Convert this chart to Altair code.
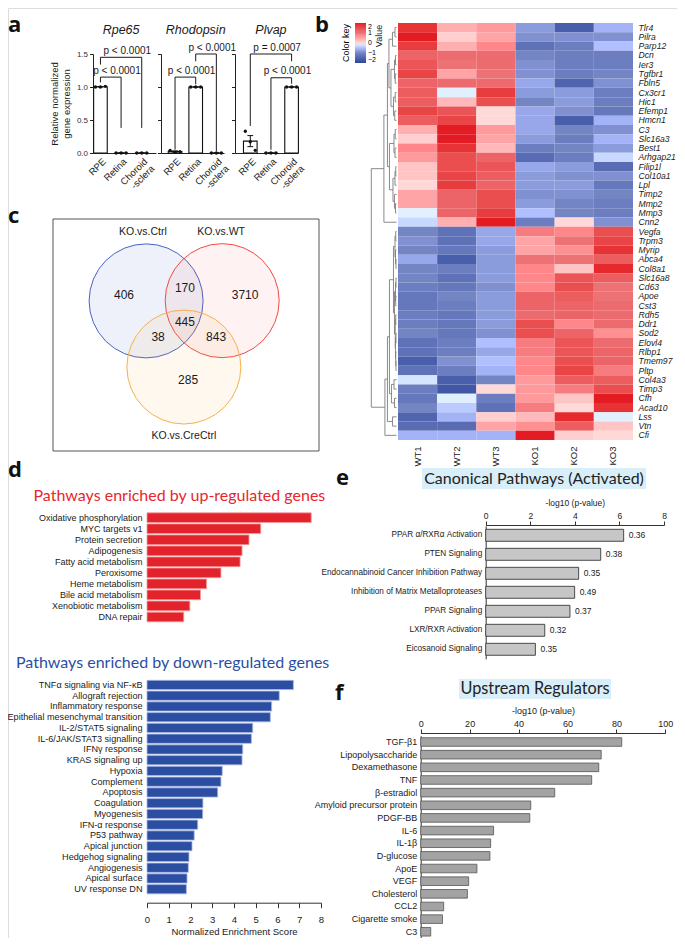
import altair as alt
import pandas as pd

# ---------------------------------------------------------------- data
# panel a : relative normalized expression, 3 replicates per tissue
a_genes = ["Rpe65", "Rhodopsin", "Plvap"]
a_tissues = ["RPE", "Retina", "Choroid\n-sclera"]
rpe65_vals = [1.00, 1.00, 1.01, 0.0, 0.0, 0.0, 0.0, 0.0, 0.0]
rhodopsin_vals = [0.04, 0.01, 0.02, 1.00, 1.00, 1.00, 0.0, 0.0, 0.0]
plvap_vals = [0.33, 0.17, 0.04, 0.0, 0.0, 0.0, 1.00, 1.00, 1.00]
brk_gene = ["Rpe65", "Rpe65", "Rhodopsin", "Rhodopsin", "Plvap", "Plvap"]
brk_from = [0, 0, 0, 1, 0, 1]
brk_to = [1, 2, 1, 2, 2, 2]
brk_level = [1.15, 1.45, 1.15, 1.50, 1.50, 1.14]
brk_leg_from = [1.07, 1.34, 0.05, 1.39, 0.41, 0.05]
brk_leg_to = [0.38, 0.38, 1.04, 0.03, 1.39, 1.05]
brk_label = ["p < 0.0001", "p < 0.0001", "p < 0.0001", "p < 0.0001", "p = 0.0007", "p < 0.0001"]

# panel b : heatmap (z-scores)
b_samples = ["WT1", "WT2", "WT3", "KO1", "KO2", "KO3"]
b_genes = ["Tlr4", "Pilra", "Parp12", "Dcn", "Ier3", "Tgfbr1", "Fbln5", "Cx3cr1", "Hic1",
           "Efemp1", "Hmcn1", "C3", "Slc16a3", "Best1", "Arhgap21", "Filip1l", "Col10a1",
           "Lpl", "Timp2", "Mmp2", "Mmp3", "Cnn2", "Vegfa", "Trpm3", "Myrip", "Abca4",
           "Col8a1", "Slc16a8", "Cd63", "Apoe", "Cst3", "Rdh5", "Ddr1", "Sod2", "Elovl4",
           "Rlbp1", "Tmem97", "Pltp", "Col4a3", "Timp3", "Cfh", "Acad10", "Lss", "Vtn", "Cfi"]
wt1 = [1.8, 2.0, 1.7, 1.2, 1.4, 1.6, 1.2, 1.3, 1.3, 1.6, 1.3, 0.4, 0.1, 0.8, 0.6, 0.2, 0.2,
       0.0, 0.5, 0.5, -0.1, -0.3, -1.0, -0.9, -1.0, -0.7, -1.0, -1.0, -1.1, -1.2, -1.2, -1.1,
       -1.1, -1.0, -1.3, -1.3, -1.6, -1.3, -0.2, -1.1, -1.2, -1.0, -1.5, -1.4, -0.6]
wt2 = [0.4, 0.1, 0.4, 1.1, 1.0, 0.5, 1.1, -0.1, 0.3, 1.4, 1.6, 2.0, 2.0, 1.8, 1.5, 1.5, 1.6,
       1.7, 1.2, 1.2, 1.2, 0.4, -1.3, -1.3, -1.2, -1.6, -1.1, -1.3, -1.2, -1.0, -1.1, -1.2,
       -1.2, -1.2, -1.1, -1.1, -0.9, -1.1, -1.6, -1.7, -0.1, -0.4, -0.6, -1.4, -0.6]
wt3 = [0.6, 0.5, 0.8, 1.1, 1.1, 1.0, 1.1, 1.7, 1.5, 0.0, 0.0, 0.6, 0.5, 0.3, 1.2, 1.4, 1.3,
       1.2, 1.5, 1.5, 1.7, 2.0, -0.7, -0.7, -0.8, -0.8, -0.8, -0.8, -0.9, -0.8, -0.8, -0.8,
       -0.8, -0.9, -0.5, -0.7, -0.5, -0.6, -1.0, 0.0, -1.1, -1.3, 0.1, 0.5, -0.6]
ko1 = [-0.8, -0.9, -1.3, -1.0, -0.9, -0.9, -0.7, -0.8, -1.0, -0.7, -0.7, -0.7, -0.8, -1.1,
       -1.4, -0.7, -0.8, -0.8, -0.9, -0.8, -0.5, -1.1, 0.9, 0.5, 0.5, 1.0, 0.8, 0.8, 0.8, 1.2,
       1.2, 1.1, 1.5, 1.5, 0.9, 0.9, 0.8, 0.8, 0.6, 0.6, 0.6, 0.9, 0.3, 0.7, 2.0]
ko2 = [-1.6, -0.9, -1.1, -1.1, -1.1, -1.1, -1.5, -0.8, -0.8, -0.9, -1.6, -1.0, -1.1, -1.0,
       -1.1, -0.8, -0.9, -0.8, -0.9, -1.0, -1.0, 0.0, 0.8, 1.0, 0.7, 1.0, 0.2, 1.4, 1.5, 1.3,
       1.2, 1.2, 0.8, 1.2, 1.4, 1.4, 1.5, 1.6, 1.3, 0.9, 0.2, 0.0, 1.9, 1.3, 0.1]
ko3 = [-0.6, -0.9, -0.5, -1.1, -1.1, -1.0, -0.9, -1.1, -1.1, -1.2, -0.6, -0.9, -0.6, -0.8,
       -0.3, -1.4, -0.9, -1.2, -1.0, -1.1, -1.1, -0.9, 1.5, 1.6, 1.8, 1.3, 1.9, 1.3, 1.0, 1.0,
       1.1, 1.1, 1.1, 0.7, 1.1, 1.2, 1.2, 0.9, 1.3, 1.5, 2.0, 1.8, -0.1, 0.2, 0.0]
# row dendrogram: (merge height, left, right); leaves are row indices
b_tree = (1.0,
          (0.50,
           (0.36,
            (0.30, (0.16, (0.06, 0, 1), 2),
             (0.22, (0.08, (0.04, 3, 4), (0.05, 5, 6)), (0.12, (0.05, 7, 8), (0.07, 9, 10)))),
            (0.28, (0.10, (0.05, 11, 12), (0.06, 13, 14)),
             (0.14, (0.06, (0.03, 15, 16), 17), (0.08, 18, (0.04, 19, 20))))),
           21),
          (0.46,
           (0.36,
            (0.28,
             (0.12, (0.06, (0.03, 22, 23), (0.04, 24, (0.02, 25, 26))),
              (0.08, (0.04, (0.02, 27, 28), (0.03, 29, 30)),
               (0.05, (0.03, 31, 32), (0.04, (0.02, 33, 34), (0.03, 35, (0.02, 36, 37)))))),
             (0.20, (0.10, 38, 39), (0.08, 40, 41))),
            (0.16, 42, 43)),
           44))

# panel c : Venn counts
venn_sets = ["KO.vs.Ctrl", "KO.vs.WT", "KO.vs.CreCtrl"]
venn_regions = ["Ctrl", "Ctrl&WT", "WT", "all", "Ctrl&Cre", "WT&Cre", "Cre"]
venn_counts = [406, 170, 3710, 445, 38, 843, 285]

# panel d : normalized enrichment scores
up_terms = ["Oxidative phosphorylation", "MYC targets v1", "Protein secretion", "Adipogenesis",
            "Fatty acid metabolism", "Peroxisome", "Heme metabolism", "Bile acid metabolism",
            "Xenobiotic metabolism", "DNA repair"]
up_nes = [7.55, 5.23, 4.69, 4.37, 4.28, 3.40, 2.74, 2.46, 1.97, 1.69]
down_terms = ["TNFα signaling via NF-κB", "Allograft rejection", "Inflammatory response",
              "Epithelial mesenchymal transition", "IL-2/STAT5 signaling",
              "IL-6/JAK/STAT3 signalling", "IFNγ response", "KRAS signaling up", "Hypoxia",
              "Complement", "Apoptosis", "Coagulation", "Myogenesis", "IFN-α response",
              "P53 pathway", "Apical junction", "Hedgehog signaling", "Angiogenesis",
              "Apical surface", "UV response DN"]
down_nes = [6.73, 6.08, 5.73, 5.67, 4.86, 4.80, 4.40, 4.37, 3.46, 3.40, 3.25, 2.57, 2.56,
            2.33, 2.17, 2.07, 1.93, 1.90, 1.84, 1.81]

# panel e : canonical pathways
e_terms = ["PPAR α/RXRα Activation", "PTEN Signaling", "Endocannabinoid Cancer Inhibition Pathway",
           "Inhibition of Matrix Metalloproteases", "PPAR Signaling", "LXR/RXR Activation",
           "Eicosanoid Signaling"]
e_logp = [6.19, 5.16, 4.17, 3.99, 3.78, 2.65, 2.23]
e_ratio = ["0.36", "0.38", "0.35", "0.49", "0.37", "0.32", "0.35"]

# panel f : upstream regulators
f_terms = ["TGF-β1", "Lipopolysaccharide", "Dexamethasone", "TNF", "β-estradiol",
           "Amyloid precursor protein", "PDGF-BB", "IL-6", "IL-1β", "D-glucose", "ApoE",
           "VEGF", "Cholesterol", "CCL2", "Cigarette smoke", "C3"]
f_logp = [82.2, 73.8, 72.8, 69.9, 54.8, 45.0, 44.6, 29.8, 28.6, 28.3, 23.0, 19.6, 19.1,
          9.4, 8.9, 4.1]

# ---------------------------------------------------------------- layout / style
W, H = 669, 930
SANS = "Liberation Sans, Arial, Helvetica, sans-serif"
HEAD = "Lato, Open Sans, sans-serif"
BOLD = "Open Sans, Lato, sans-serif"
INK = "#1a1a1a"


def LX(v): return v - 2      # left column
def RX(v): return v - 15     # right column
def TY(v): return v - 2      # upper half
def BY(v): return v - 12     # lower half


def letter(ch, x, y):
    return alt.Chart(pd.DataFrame({"t": [ch]})).mark_text(
        font=BOLD, fontSize=22, fontWeight="bold", align="left", baseline="alphabetic",
        color="#111").encode(x=alt.value(x), y=alt.value(y), text="t:N")


def free_text(txt, x, y, **kw):
    return alt.Chart(pd.DataFrame({"t": [txt]})).mark_text(**kw).encode(
        x=alt.value(x), y=alt.value(y), text="t:N")


def QX(field, sc, axis=None):
    return alt.X(field, type="quantitative", scale=sc, axis=axis)


def QY(field, sc, axis=None):
    return alt.Y(field, type="quantitative", scale=sc, axis=axis)


layers = []

# ---------------------------------------------------------------- panel a
a_axis_left = [87, 155, 229]
a_dmin = [-0.36, -0.68, -0.74]
a_w = 63
brk_df = pd.DataFrame({"gene": brk_gene, "xa": brk_from, "xb": brk_to, "level": brk_level,
                       "la": brk_leg_from, "lb": brk_leg_to, "label": brk_label})


def js_label(t):
    parts = t.split("\n")
    if len(parts) == 1:
        return "'" + t + "'"
    return "[" + ",".join("'" + p + "'" for p in parts) + "]"


tissue_expr = "datum.value == 0 ? %s : datum.value == 1 ? %s : %s" % tuple(
    js_label(t) for t in a_tissues)

for i, (g, vals) in enumerate(zip(a_genes, [rpe65_vals, rhodopsin_vals, plvap_vals])):
    df = pd.DataFrame({"pos": [0, 0, 0, 1, 1, 1, 2, 2, 2], "rep": [0, 1, 2] * 3, "val": vals})
    xs = alt.Scale(domain=[a_dmin[i], a_dmin[i] + 3.05],
                   range=[LX(a_axis_left[i]), LX(a_axis_left[i] + a_w)], nice=False, zero=False)
    ys = alt.Scale(domain=[0, 1.5], range=[TY(147), TY(48)], nice=False, zero=False)
    xaxis = alt.Axis(orient="bottom", offset=TY(147) - H, values=[0, 1, 2], labelExpr=tissue_expr,
                     labelAngle=-45, ticks=False, grid=False, title=None, domainColor="#222",
                     labelColor=INK, labelFontSize=9.5, labelPadding=3, labelOverlap=False,
                     labelFlush=False, labelLineHeight=10)
    yaxis = alt.Axis(orient="left", offset=-LX(a_axis_left[i]), values=[0, 0.5, 1, 1.5],
                     format=".1f", labels=(i == 0), grid=False, tickSize=3.5, labelFontSize=8,
                     labelPadding=2, labelColor="#333", domainColor="#222", tickColor="#222",
                     labelFlush=False, labelOverlap=False,
                     title=["Relative normalized", "gene expression"] if i == 0 else None,
                     titleFontSize=9.5, titleFontWeight="normal", titlePadding=5,
                     titleColor=INK)
    base = alt.Chart(df)
    agg = base.transform_aggregate(m="mean(val)", se="stderr(val)", groupby=["pos"]) \
        .transform_calculate(lo="datum.pos - 0.33", hi="datum.pos + 0.33",
                             elo="datum.m - datum.se", ehi="datum.m + datum.se",
                             clo="datum.pos - 0.14", chi="datum.pos + 0.14")
    layers.append(agg.mark_rect(fill="white", stroke="#111", strokeWidth=1.1).encode(
        x=QX("lo", xs, xaxis), x2="hi:Q", y=QY("m", ys, yaxis), y2=alt.datum(0)))
    layers.append(agg.mark_rule(color="#111", strokeWidth=1).encode(
        x=QX("pos", xs), y=QY("elo", ys), y2="ehi:Q"))
    layers.append(agg.mark_rule(color="#111", strokeWidth=1).encode(
        x=QX("clo", xs), x2="chi:Q", y=QY("elo", ys)))
    layers.append(agg.mark_rule(color="#111", strokeWidth=1).encode(
        x=QX("clo", xs), x2="chi:Q", y=QY("ehi", ys)))
    layers.append(base.transform_calculate(jx="datum.pos + (datum.rep - 1) * 0.24").mark_circle(
        size=11, color="#111", opacity=1).encode(x=QX("jx", xs), y=QY("val", ys)))
    bb = alt.Chart(brk_df[brk_df["gene"] == g])
    layers.append(bb.mark_rule(color=INK, strokeWidth=1).encode(
        x=QX("xa", xs), x2="xb:Q", y=QY("level", ys)))
    layers.append(bb.mark_rule(color=INK, strokeWidth=1).encode(
        x=QX("xa", xs), y=QY("la", ys), y2="level:Q"))
    layers.append(bb.mark_rule(color=INK, strokeWidth=1).encode(
        x=QX("xb", xs), y=QY("lb", ys), y2="level:Q"))
    layers.append(bb.transform_calculate(tx="(datum.xa + datum.xb) / 2 + 0.3").mark_text(
        baseline="bottom", dy=-1.5, fontSize=10, color=INK, font=SANS).encode(
        x=QX("tx", xs), y=QY("level", ys), text="label:N"))
    layers.append(alt.Chart(pd.DataFrame({"t": [g]})).mark_text(
        fontStyle="italic", fontSize=12.5, color=INK, font=SANS).encode(
        x=alt.XDatum(1, scale=xs, axis=None), y=alt.YDatum(1.86, scale=ys, axis=None),
        text="t:N"))

layers.append(letter("a", LX(2), TY(26)))

# ---------------------------------------------------------------- panel c (Venn)
venn_cx = [35.0, 63.6, 49.2]
venn_cy = [35.3, 35.2, 63.8]
venn_stroke = ["#4a62c4", "#ee4c44", "#f6b04c"]
venn_op = [0.09, 0.07, 0.09]
venn_set_lx = [33.8, 63.2, 49.2]
venn_set_ly = [5.6, 5.6, 93.5]
venn_cnt_x = [26.7, 49.6, 72.2, 49.6, 39.5, 61.3, 50.8]
venn_cnt_y = [32.8, 29.7, 32.8, 44.4, 50.9, 50.9, 69.4]
vxs = alt.Scale(domain=[0, 100], range=[LX(47), LX(313)], nice=False, zero=False)
vys = alt.Scale(domain=[0, 100], range=[TY(213), TY(445)], nice=False, zero=False)
layers.append(alt.Chart(pd.DataFrame({"x0": [0], "x1": [100], "y0": [0], "y1": [100]})).mark_rect(
    filled=False, color="#555", strokeWidth=1).encode(
    x=QX("x0", vxs), x2="x1:Q", y=QY("y0", vys), y2="y1:Q"))
for k in range(3):
    layers.append(alt.Chart(pd.DataFrame({"s": [venn_sets[k]], "cx": [venn_cx[k]],
                                          "cy": [venn_cy[k]]}))
                  .mark_point(shape="circle", size=114 ** 2, filled=True, fill=venn_stroke[k],
                              fillOpacity=venn_op[k], stroke=venn_stroke[k], strokeWidth=1,
                              strokeOpacity=1)
                  .encode(x=QX("cx", vxs), y=QY("cy", vys)))
layers.append(alt.Chart(pd.DataFrame({"s": venn_sets, "x": venn_set_lx, "y": venn_set_ly}))
              .mark_text(fontSize=10.5, color=INK, font=SANS)
              .encode(x=QX("x", vxs), y=QY("y", vys), text="s:N"))
layers.append(alt.Chart(pd.DataFrame({"r": venn_regions, "n": venn_counts, "x": venn_cnt_x,
                                      "y": venn_cnt_y}))
              .mark_text(fontSize=12, color=INK, font=SANS)
              .encode(x=QX("x", vxs), y=QY("y", vys), text="n:Q"))
layers.append(letter("c", LX(2), TY(217)))

# ---------------------------------------------------------------- panel d
dxs = alt.Scale(domain=[0, 8], range=[LX(141), LX(315)], nice=False, zero=False)
layers.append(alt.Chart(pd.DataFrame({"term": up_terms, "nes": up_nes})).mark_bar(
    color="#e3232b", stroke="#f49c9c", strokeWidth=0.8).encode(
    x=QX("nes", dxs),
    y=alt.Y("term:N", scale=alt.Scale(domain=up_terms, range=[BY(516.2), BY(626.5)],
                                      paddingInner=0.12, paddingOuter=0.06),
            axis=alt.Axis(orient="left", offset=-LX(141), domain=False, ticks=False,
                          labelFontSize=9, labelPadding=5, labelColor=INK, title=None,
                          labelLimit=400, labelFont=SANS))))
layers.append(alt.Chart(pd.DataFrame({"term": down_terms, "nes": down_nes})).mark_bar(
    color="#2b4ea3", stroke="#a9b8e0", strokeWidth=0.8).encode(
    x=QX("nes", dxs,
         alt.Axis(orient="bottom", offset=BY(906.7) - H, values=list(range(9)),
                  tickSize=5, labelFontSize=9.5, labelPadding=7,
                  title="Normalized Enrichment Score", titleFontSize=9.5,
                  titleFontWeight="normal", titlePadding=2, grid=False,
                  labelFlush=False, labelOverlap=False, domainColor="#333",
                  tickColor="#333", labelColor=INK, titleColor=INK)),
    y=alt.Y("term:N", scale=alt.Scale(domain=down_terms, range=[BY(683.6), BY(898.6)],
                                      paddingInner=0.14, paddingOuter=0.07),
            axis=alt.Axis(orient="left", offset=-LX(141), domain=False, ticks=False,
                          labelFontSize=9.1, labelPadding=5, labelColor=INK, title=None,
                          labelLimit=400, labelFont=SANS))))
layers.append(free_text("Pathways enriched by up-regulated genes", LX(27.5), BY(500),
                        font=HEAD, fontSize=16, color="#e8262c", align="left",
                        baseline="middle"))
layers.append(free_text("Pathways enriched by down-regulated genes", LX(10), BY(667),
                        font=HEAD, fontSize=16, color="#2b4ea3", align="left",
                        baseline="middle"))
layers.append(letter("d", LX(2), BY(481)))

# ---------------------------------------------------------------- panel b (heatmap)
hm_rows = []
for s, col in zip(b_samples, [wt1, wt2, wt3, ko1, ko2, ko3]):
    for gname, z in zip(b_genes, col):
        hm_rows.append({"sample": s, "gene": gname, "z": z})
layers.append(alt.Chart(pd.DataFrame(hm_rows)).mark_rect().encode(
    x=alt.X("sample:N", scale=alt.Scale(domain=b_samples, range=[RX(405), RX(640)],
                                        paddingInner=0, paddingOuter=0),
            axis=alt.Axis(orient="bottom", offset=TY(434) - H, labelAngle=270, ticks=False,
                          domain=False, labelFont=SANS, labelFontSize=9.5, labelPadding=6,
                          title=None, labelColor=INK)),
    y=alt.Y("gene:N", scale=alt.Scale(domain=b_genes, range=[TY(17), TY(434)],
                                      paddingInner=0, paddingOuter=0),
            axis=alt.Axis(orient="right", offset=RX(640) - W, ticks=False, domain=False,
                          labelFont=SANS, labelFontStyle="italic", labelFontSize=8.6,
                          labelPadding=5, title=None, labelColor=INK)),
    color=alt.Color("z:Q", scale=alt.Scale(domain=[-2, -1, 0, 1, 2],
                                           range=["#2a469a", "#7485c4", "#ffffff",
                                                  "#ec7276", "#e31b23"]),
                    legend=alt.Legend(orient="none", legendX=RX(349), legendY=TY(17),
                                      direction="vertical", title="Color key",
                                      titleOrient="left", gradientLength=40,
                                      gradientThickness=11, values=[-2, -1, 0, 1, 2],
                                      labelFont=SANS, labelFontSize=7, titleFont=SANS,
                                      titleFontSize=9, titleFontWeight="normal",
                                      titlePadding=3, labelOffset=2, padding=0,
                                      labelOverlap=False, gradientStrokeWidth=0))))

seg = []


def walk(node):
    if isinstance(node, int):
        return float(node), 0.0
    h, l, r = node
    pl, hl = walk(l)
    pr, hr = walk(r)
    seg.append({"h1": hl, "h2": h, "p1": pl, "p2": pl})
    seg.append({"h1": hr, "h2": h, "p1": pr, "p2": pr})
    seg.append({"h1": h, "h2": h, "p1": pl, "p2": pr})
    return (pl + pr) / 2, h


walk(b_tree)
layers.append(alt.Chart(pd.DataFrame(seg)).mark_rule(color="#7d7d7d", strokeWidth=0.9).encode(
    x=QX("h1", alt.Scale(domain=[0, 1], range=[RX(403.5), RX(378.3)], nice=False, zero=False)),
    x2="h2:Q",
    y=QY("p1", alt.Scale(domain=[-0.5, len(b_genes) - 0.5], range=[TY(17), TY(434)],
                         nice=False, zero=False)),
    y2="p2:Q"))
layers.append(free_text("Value", RX(386), TY(30), font=SANS, fontSize=9, color=INK,
                        angle=270, align="center", baseline="middle"))
layers.append(letter("b", RX(322), TY(26)))

# ---------------------------------------------------------------- panel e
e_df = pd.DataFrame({"term": e_terms, "v": e_logp, "r": e_ratio})
exs = alt.Scale(domain=[0, 8], range=[RX(492.7), RX(671)], nice=False, zero=False)
eys = alt.Scale(domain=e_terms, range=[BY(529.8), BY(662.8)], paddingInner=0.37,
                paddingOuter=0.185)
layers.append(alt.Chart(e_df).mark_bar(color="#c6c6c6", stroke="#3a3a3a", strokeWidth=0.9).encode(
    x=QX("v", exs,
         alt.Axis(orient="top", offset=-BY(529), values=[0, 2, 4, 6, 8], tickSize=4,
                  labelFontSize=8.5, labelPadding=1, title="-log10 (p-value)",
                  titleFontSize=8.5, titleFontWeight="normal", titlePadding=4,
                  grid=False, labelFlush=False, domainColor="#333", tickColor="#333",
                  labelColor=INK, titleColor=INK)),
    y=alt.Y("term:N", scale=eys,
            axis=alt.Axis(orient="left", offset=-RX(492.7), ticks=False, labelFontSize=8.2,
                          labelPadding=4, title=None, domainColor="#333", labelLimit=400,
                          labelColor=INK))))
layers.append(alt.Chart(e_df).mark_text(align="left", dx=5, fontSize=8.5, color=INK,
                                        font=SANS).encode(
    x=QX("v", exs), y=alt.Y("term:N", scale=eys, axis=None), text="r:N"))
layers.append(alt.Chart(pd.DataFrame({"k": [0]})).mark_rect(color="#d8eef8").encode(
    x=alt.value(RX(429)), x2=alt.value(RX(653)), y=alt.value(BY(472)), y2=alt.value(BY(493))))
layers.append(free_text("Canonical Pathways (Activated)", RX(541), BY(483), font=HEAD,
                        fontSize=16, color="#222", align="center", baseline="middle"))
layers.append(letter("e", RX(343), BY(489)))

# ---------------------------------------------------------------- panel f
f_df = pd.DataFrame({"term": f_terms, "v": f_logp})
layers.append(alt.Chart(f_df).mark_bar(color="#a3a3a3", stroke="#555", strokeWidth=0.8).encode(
    x=QX("v", alt.Scale(domain=[0, 100], range=[RX(427.7), RX(672.3)], nice=False, zero=False),
         alt.Axis(orient="top", offset=-BY(737), values=[0, 20, 40, 60, 80, 100],
                  tickSize=4, labelFontSize=9, labelPadding=1,
                  title="-log10 (p-value)", titleFontSize=9, titleFontWeight="normal",
                  titlePadding=4, grid=False, labelFlush=False, domainColor="#333",
                  tickColor="#333", labelColor=INK, titleColor=INK)),
    y=alt.Y("term:N", scale=alt.Scale(domain=f_terms, range=[BY(739.7), BY(942.1)],
                                      paddingInner=0.32, paddingOuter=0.16),
            axis=alt.Axis(orient="left", offset=-RX(427.7), ticks=False, labelFontSize=9,
                          labelPadding=4, title=None, domainColor="#333", labelLimit=400,
                          labelColor=INK))))
layers.append(alt.Chart(pd.DataFrame({"k": [0]})).mark_rect(color="#d8eef8").encode(
    x=alt.value(RX(466)), x2=alt.value(RX(618)), y=alt.value(BY(683)), y2=alt.value(BY(703))))
layers.append(free_text("Upstream Regulators", RX(542), BY(693), font=HEAD, fontSize=16.3,
                        color="#222", align="center", baseline="middle"))
layers.append(letter("f", RX(342), BY(704)))

# ---------------------------------------------------------------- assemble
chart = alt.layer(*layers).resolve_scale(
    x="independent", y="independent", color="independent"
).resolve_axis(x="independent", y="independent").properties(
    width=W, height=H, padding=0, autosize=alt.AutoSizeParams(type="none")
).configure_view(strokeWidth=0).configure(font=SANS).configure_axis(
    labelFont=SANS, titleFont=SANS)

chart.save("out.html", embed_options={"renderer": "svg", "actions": False})
